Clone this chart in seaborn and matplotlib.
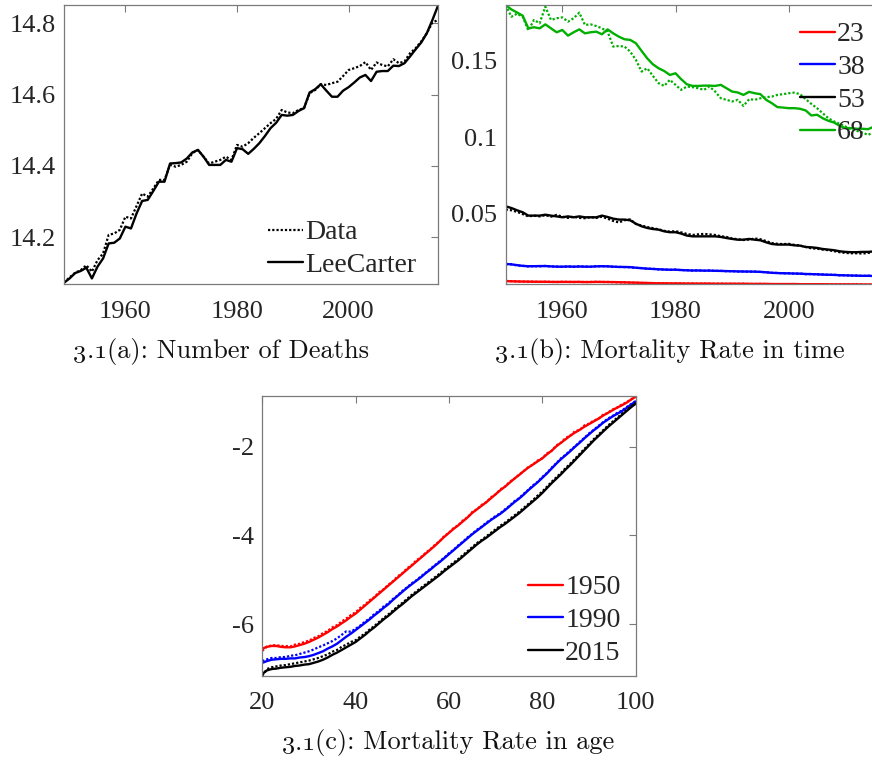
import numpy as np
import pandas as pd
import matplotlib
matplotlib.use("Agg")
import matplotlib.pyplot as plt
from matplotlib.offsetbox import TextArea, HPacker, AnnotationBbox
import seaborn as sns

# ---------------- (a) log number of deaths, 1949-2016 ----------------
years_a = list(range(1949, 2017))
deaths_leecarter = [
    14.073, 14.085, 14.100, 14.106, 14.115, 14.085, 14.118, 14.141, 14.183, 14.185,
    14.197, 14.230, 14.225, 14.267, 14.302, 14.305, 14.330, 14.356, 14.356, 14.407,
    14.408, 14.410, 14.421, 14.438, 14.445, 14.426, 14.403, 14.403, 14.403, 14.417,
    14.412, 14.450, 14.447, 14.434, 14.448, 14.464, 14.484, 14.506, 14.521, 14.543,
    14.541, 14.543, 14.554, 14.562, 14.606, 14.615, 14.629, 14.611, 14.594, 14.594,
    14.611, 14.621, 14.634, 14.648, 14.655, 14.638, 14.664, 14.666, 14.666, 14.681,
    14.680, 14.688, 14.707, 14.727, 14.746, 14.772, 14.809, 14.849,
]
deaths_data = [
    14.073, 14.088, 14.101, 14.108, 14.122, 14.104, 14.136, 14.155, 14.207, 14.211,
    14.221, 14.258, 14.253, 14.288, 14.323, 14.314, 14.337, 14.361, 14.361, 14.403,
    14.398, 14.403, 14.412, 14.436, 14.445, 14.426, 14.407, 14.412, 14.417, 14.426,
    14.417, 14.459, 14.454, 14.464, 14.479, 14.492, 14.506, 14.520, 14.532, 14.557,
    14.550, 14.548, 14.557, 14.562, 14.604, 14.613, 14.629, 14.627, 14.632, 14.636,
    14.652, 14.669, 14.674, 14.680, 14.691, 14.669, 14.690, 14.683, 14.679, 14.699,
    14.688, 14.693, 14.716, 14.730, 14.749, 14.772, 14.802, 14.809,
]

# ---------------- (b) mortality rate in time, 1950-2016 ----------------
years_b = list(range(1950, 2017))
ages_b = ["23", "38", "53", "68"]
rate23_fit = [
    0.0055, 0.0054, 0.0053, 0.0052, 0.0052, 0.0051, 0.0051, 0.0051, 0.0050, 0.0050,
    0.0050, 0.0050, 0.0050, 0.0050, 0.0049, 0.0049, 0.0050, 0.0050, 0.0049, 0.0049,
    0.0048, 0.0047, 0.0046, 0.0045, 0.0044, 0.0043, 0.0042, 0.0041, 0.0041, 0.0040,
    0.0040, 0.0040, 0.0039, 0.0039, 0.0039, 0.0039, 0.0039, 0.0038, 0.0038, 0.0038,
    0.0038, 0.0038, 0.0038, 0.0037, 0.0037, 0.0037, 0.0037, 0.0036, 0.0036, 0.0036,
    0.0036, 0.0036, 0.0035, 0.0035, 0.0035, 0.0035, 0.0035, 0.0034, 0.0034, 0.0034,
    0.0034, 0.0034, 0.0034, 0.0033, 0.0033, 0.0033, 0.0034,
]
rate23_data = [
    0.0057, 0.0055, 0.0053, 0.0053, 0.0051, 0.0052, 0.0050, 0.0051, 0.0050, 0.0049,
    0.0051, 0.0050, 0.0049, 0.0050, 0.0049, 0.0050, 0.0051, 0.0049, 0.0050, 0.0048,
    0.0047, 0.0047, 0.0045, 0.0045, 0.0043, 0.0043, 0.0041, 0.0041, 0.0040, 0.0040,
    0.0041, 0.0039, 0.0039, 0.0040, 0.0038, 0.0039, 0.0038, 0.0038, 0.0039, 0.0037,
    0.0038, 0.0037, 0.0038, 0.0037, 0.0036, 0.0037, 0.0036, 0.0036, 0.0035, 0.0036,
    0.0035, 0.0036, 0.0035, 0.0034, 0.0035, 0.0034, 0.0035, 0.0034, 0.0033, 0.0034,
    0.0034, 0.0033, 0.0034, 0.0033, 0.0032, 0.0033, 0.0034,
]
rate38_fit = [
    0.0168, 0.0165, 0.0160, 0.0155, 0.0153, 0.0153, 0.0154, 0.0154, 0.0152, 0.0150,
    0.0150, 0.0151, 0.0150, 0.0151, 0.0150, 0.0150, 0.0152, 0.0153, 0.0152, 0.0150,
    0.0148, 0.0148, 0.0147, 0.0143, 0.0140, 0.0137, 0.0135, 0.0133, 0.0131, 0.0130,
    0.0130, 0.0128, 0.0126, 0.0125, 0.0125, 0.0124, 0.0124, 0.0123, 0.0122, 0.0121,
    0.0120, 0.0119, 0.0118, 0.0118, 0.0117, 0.0116, 0.0113, 0.0110, 0.0108, 0.0107,
    0.0106, 0.0105, 0.0104, 0.0102, 0.0101, 0.0100, 0.0098, 0.0097, 0.0096, 0.0094,
    0.0093, 0.0092, 0.0091, 0.0090, 0.0090, 0.0089, 0.0089,
]
rate38_data = [
    0.0166, 0.0166, 0.0158, 0.0156, 0.0151, 0.0154, 0.0152, 0.0155, 0.0151, 0.0151,
    0.0149, 0.0152, 0.0149, 0.0152, 0.0151, 0.0149, 0.0153, 0.0152, 0.0153, 0.0149,
    0.0149, 0.0147, 0.0146, 0.0142, 0.0141, 0.0136, 0.0136, 0.0132, 0.0132, 0.0129,
    0.0131, 0.0127, 0.0127, 0.0124, 0.0126, 0.0123, 0.0125, 0.0122, 0.0123, 0.0120,
    0.0121, 0.0118, 0.0119, 0.0117, 0.0118, 0.0115, 0.0114, 0.0109, 0.0109, 0.0106,
    0.0107, 0.0104, 0.0105, 0.0101, 0.0102, 0.0099, 0.0099, 0.0096, 0.0097, 0.0093,
    0.0094, 0.0091, 0.0092, 0.0089, 0.0091, 0.0088, 0.0090,
]
rate53_fit = [
    0.0546, 0.0535, 0.0520, 0.0507, 0.0485, 0.0485, 0.0485, 0.0491, 0.0485, 0.0480,
    0.0474, 0.0480, 0.0474, 0.0480, 0.0474, 0.0474, 0.0474, 0.0485, 0.0476, 0.0465,
    0.0459, 0.0459, 0.0454, 0.0432, 0.0415, 0.0404, 0.0397, 0.0393, 0.0382, 0.0376,
    0.0376, 0.0367, 0.0354, 0.0349, 0.0349, 0.0349, 0.0349, 0.0349, 0.0345, 0.0338,
    0.0332, 0.0327, 0.0327, 0.0332, 0.0327, 0.0323, 0.0310, 0.0299, 0.0295, 0.0295,
    0.0295, 0.0290, 0.0288, 0.0279, 0.0277, 0.0273, 0.0266, 0.0262, 0.0258, 0.0251,
    0.0247, 0.0245, 0.0245, 0.0247, 0.0247, 0.0250, 0.0250,
]
rate53_data = [
    0.0525, 0.0520, 0.0510, 0.0495, 0.0480, 0.0485, 0.0480, 0.0488, 0.0478, 0.0490,
    0.0478, 0.0470, 0.0478, 0.0470, 0.0468, 0.0475, 0.0470, 0.0478, 0.0465, 0.0450,
    0.0440, 0.0455, 0.0460, 0.0430, 0.0420, 0.0410, 0.0403, 0.0395, 0.0385, 0.0380,
    0.0383, 0.0375, 0.0365, 0.0358, 0.0362, 0.0365, 0.0362, 0.0358, 0.0350, 0.0345,
    0.0335, 0.0330, 0.0325, 0.0328, 0.0335, 0.0330, 0.0318, 0.0305, 0.0300, 0.0298,
    0.0300, 0.0293, 0.0288, 0.0280, 0.0270, 0.0268, 0.0262, 0.0258, 0.0252, 0.0245,
    0.0240, 0.0238, 0.0238, 0.0236, 0.0240, 0.0245, 0.0248,
]
rate68_fit = [
    0.1867, 0.1838, 0.1818, 0.1797, 0.1714, 0.1721, 0.1714, 0.1740, 0.1714, 0.1688,
    0.1703, 0.1666, 0.1688, 0.1707, 0.1681, 0.1688, 0.1692, 0.1675, 0.1707, 0.1681,
    0.1659, 0.1642, 0.1638, 0.1616, 0.1566, 0.1517, 0.1478, 0.1452, 0.1434, 0.1408,
    0.1419, 0.1380, 0.1347, 0.1336, 0.1336, 0.1338, 0.1338, 0.1336, 0.1343, 0.1321,
    0.1299, 0.1293, 0.1277, 0.1297, 0.1288, 0.1282, 0.1245, 0.1223, 0.1197, 0.1194,
    0.1190, 0.1190, 0.1186, 0.1175, 0.1142, 0.1147, 0.1124, 0.1107, 0.1096, 0.1074,
    0.1059, 0.1059, 0.1055, 0.1055, 0.1052, 0.1068, 0.1075,
]
rate68_data = [
    0.1867, 0.1790, 0.1810, 0.1790, 0.1700, 0.1769, 0.1747, 0.1856, 0.1769, 0.1780,
    0.1786, 0.1758, 0.1780, 0.1817, 0.1736, 0.1740, 0.1729, 0.1714, 0.1692, 0.1594,
    0.1598, 0.1594, 0.1561, 0.1507, 0.1430, 0.1452, 0.1402, 0.1354, 0.1336, 0.1376,
    0.1343, 0.1310, 0.1332, 0.1328, 0.1321, 0.1310, 0.1332, 0.1299, 0.1255, 0.1245,
    0.1234, 0.1245, 0.1205, 0.1249, 0.1245, 0.1255, 0.1262, 0.1266, 0.1277, 0.1282,
    0.1288, 0.1292, 0.1282, 0.1249, 0.1218, 0.1190, 0.1157, 0.1124, 0.1103, 0.1087,
    0.1070, 0.1052, 0.1041, 0.1030, 0.1015, 0.1030, 0.1045,
]

# ---------------- (c) log mortality rate by age, 20-100 ----------------
ages_c = list(range(20, 101))
years_c = ["1950", "1990", "2015"]
logm1950_fit = [
    -6.55, -6.51, -6.49, -6.49, -6.51, -6.52, -6.52, -6.50, -6.47, -6.44,
    -6.40, -6.35, -6.30, -6.24, -6.18, -6.11, -6.05, -5.98, -5.91, -5.83,
    -5.76, -5.67, -5.58, -5.49, -5.40, -5.31, -5.22, -5.13, -5.04, -4.95,
    -4.86, -4.77, -4.68, -4.59, -4.50, -4.41, -4.32, -4.23, -4.13, -4.03,
    -3.94, -3.85, -3.77, -3.68, -3.59, -3.49, -3.41, -3.33, -3.25, -3.16,
    -3.07, -2.98, -2.90, -2.81, -2.72, -2.64, -2.55, -2.47, -2.40, -2.33,
    -2.26, -2.17, -2.09, -1.99, -1.91, -1.83, -1.75, -1.68, -1.62, -1.55,
    -1.49, -1.43, -1.37, -1.30, -1.24, -1.18, -1.12, -1.07, -1.01, -0.94,
    -0.87,
]
logm1950_data = [
    -6.60, -6.50, -6.48, -6.47, -6.49, -6.49, -6.50, -6.46, -6.44, -6.40,
    -6.37, -6.31, -6.27, -6.20, -6.15, -6.07, -6.02, -5.94, -5.87, -5.79,
    -5.73, -5.63, -5.56, -5.46, -5.39, -5.28, -5.21, -5.11, -5.03, -4.92,
    -4.85, -4.74, -4.67, -4.56, -4.49, -4.39, -4.31, -4.21, -4.13, -4.01,
    -3.94, -3.83, -3.77, -3.66, -3.59, -3.47, -3.41, -3.31, -3.25, -3.14,
    -3.07, -2.96, -2.90, -2.79, -2.72, -2.63, -2.55, -2.46, -2.40, -2.31,
    -2.26, -2.15, -2.09, -1.97, -1.91, -1.80, -1.75, -1.65, -1.62, -1.52,
    -1.48, -1.41, -1.37, -1.28, -1.24, -1.16, -1.12, -1.05, -1.00, -0.93,
    -0.87,
]
logm1990_fit = [
    -6.87, -6.83, -6.80, -6.79, -6.78, -6.78, -6.77, -6.77, -6.75, -6.74,
    -6.72, -6.69, -6.65, -6.61, -6.55, -6.50, -6.44, -6.36, -6.28, -6.21,
    -6.13, -6.05, -5.97, -5.89, -5.80, -5.72, -5.63, -5.55, -5.45, -5.36,
    -5.27, -5.18, -5.10, -5.02, -4.94, -4.85, -4.77, -4.68, -4.60, -4.51,
    -4.42, -4.33, -4.24, -4.15, -4.06, -3.97, -3.89, -3.81, -3.73, -3.65,
    -3.58, -3.51, -3.43, -3.34, -3.25, -3.17, -3.08, -2.98, -2.89, -2.80,
    -2.70, -2.60, -2.49, -2.38, -2.28, -2.19, -2.10, -2.00, -1.91, -1.81,
    -1.72, -1.63, -1.55, -1.46, -1.39, -1.32, -1.26, -1.20, -1.13, -1.05,
    -0.98,
]
logm1990_data = [
    -6.83, -6.79, -6.76, -6.76, -6.74, -6.74, -6.71, -6.70, -6.67, -6.64,
    -6.61, -6.57, -6.52, -6.48, -6.43, -6.38, -6.32, -6.24, -6.16, -6.17,
    -6.10, -6.03, -5.94, -5.87, -5.77, -5.70, -5.60, -5.53, -5.43, -5.35,
    -5.25, -5.17, -5.08, -5.01, -4.92, -4.84, -4.75, -4.67, -4.58, -4.50,
    -4.40, -4.32, -4.22, -4.14, -4.04, -3.96, -3.87, -3.80, -3.71, -3.64,
    -3.56, -3.50, -3.41, -3.33, -3.23, -3.16, -3.06, -2.97, -2.87, -2.79,
    -2.68, -2.59, -2.47, -2.37, -2.26, -2.18, -2.08, -1.99, -1.89, -1.80,
    -1.70, -1.62, -1.53, -1.45, -1.37, -1.31, -1.24, -1.19, -1.11, -1.04,
    -0.97,
]
logm2015_fit = [
    -7.12, -7.04, -7.01, -7.00, -6.98, -6.97, -6.96, -6.94, -6.93, -6.91,
    -6.90, -6.87, -6.84, -6.80, -6.75, -6.69, -6.64, -6.58, -6.52, -6.46,
    -6.40, -6.32, -6.24, -6.15, -6.07, -5.98, -5.89, -5.81, -5.72, -5.63,
    -5.55, -5.46, -5.37, -5.29, -5.21, -5.13, -5.05, -4.97, -4.89, -4.80,
    -4.72, -4.64, -4.56, -4.47, -4.38, -4.29, -4.20, -4.12, -4.05, -3.97,
    -3.89, -3.81, -3.74, -3.66, -3.58, -3.50, -3.41, -3.32, -3.23, -3.14,
    -3.04, -2.93, -2.82, -2.72, -2.62, -2.51, -2.41, -2.30, -2.19, -2.08,
    -1.97, -1.86, -1.76, -1.66, -1.56, -1.47, -1.38, -1.29, -1.20, -1.11,
    -1.03,
]
logm2015_data = [
    -7.16, -7.01, -6.97, -6.95, -6.93, -6.92, -6.90, -6.88, -6.86, -6.84,
    -6.82, -6.79, -6.76, -6.72, -6.68, -6.62, -6.58, -6.51, -6.46, -6.40,
    -6.36, -6.28, -6.21, -6.12, -6.04, -5.95, -5.86, -5.78, -5.69, -5.60,
    -5.52, -5.43, -5.34, -5.26, -5.18, -5.10, -5.02, -4.94, -4.86, -4.77,
    -4.69, -4.61, -4.53, -4.44, -4.35, -4.26, -4.17, -4.10, -4.02, -3.94,
    -3.86, -3.78, -3.71, -3.63, -3.55, -3.47, -3.38, -3.29, -3.20, -3.10,
    -3.01, -2.90, -2.79, -2.69, -2.59, -2.48, -2.38, -2.27, -2.16, -2.05,
    -1.94, -1.83, -1.73, -1.63, -1.53, -1.44, -1.35, -1.26, -1.18, -1.09,
    -1.01,
]

# caption = (number, sub-label + title)
captions = [
    ("3.1", "(a): Number of Deaths"),
    ("3.1", "(b): Mortality Rate in time"),
    ("3.1", "(c): Mortality Rate in age"),
]

# ---------------- styling ----------------
sns.set_theme(style="white")
SERIF = ["Liberation Serif", "DejaVu Serif"]
plt.rcParams["font.family"] = SERIF
plt.rcParams["axes.unicode_minus"] = False

TXT = "#262626"
SPINE = "#7a7a7a"
RED, BLUE, BLACK, GREEN = "#ff0000", "#0000ff", "#000000", "#00b000"
LW_FIT, LW_DATA = 1.7, 1.6
TICK_FS = 19
LEG_FS = 20
CAP_FS = 19

fig = plt.figure(figsize=(8.72, 7.62), dpi=100)
W, H = 872.0, 762.0


def add_axes_px(left, top, width, height):
    return fig.add_axes([left / W, 1 - (top + height) / H, width / W, height / H])


def style_axes(ax):
    for s in ax.spines.values():
        s.set_color(SPINE)
        s.set_linewidth(0.9)
    ax.tick_params(direction="in", length=5, width=0.8, color=SPINE,
                   top=True, right=True, labelsize=TICK_FS, labelcolor=TXT)
    ax.tick_params(axis="x", pad=12)
    ax.tick_params(axis="y", pad=6)
    ax.set_xlabel("")
    ax.set_ylabel("")


def draw(ax, x, y, color, dotted, label=None):
    sns.lineplot(x=x, y=y, ax=ax, color=color, estimator=None, sort=False,
                 linewidth=LW_DATA if dotted else LW_FIT,
                 linestyle=(0, (1, 0.9)) if dotted else "-",
                 label=label, legend=False)


def legend_at(ax, handles, labels, left_px, top_px):
    ax.legend(handles, labels, loc="upper left",
              bbox_to_anchor=(left_px / W, 1 - top_px / H),
              bbox_transform=fig.transFigure, frameon=False, fontsize=LEG_FS,
              handlelength=1.26, handletextpad=0.08, labelspacing=0.26,
              borderpad=0.0, borderaxespad=0.0)


# (a)
ax_a = add_axes_px(64, 5, 374, 279.5)
draw(ax_a, years_a, deaths_data, BLACK, True, "Data")
draw(ax_a, years_a, deaths_leecarter, BLACK, False, "LeeCarter")
ax_a.set_xlim(years_a[0], years_a[-1])
ax_a.set_ylim(14.068, 14.851)
ax_a.set_xticks([1960, 1980, 2000])
ax_a.set_yticks([14.2, 14.4, 14.6, 14.8])
ax_a.set_yticklabels(["14.2", "14.4", "14.6", "14.8"])
style_axes(ax_a)
ha, la = ax_a.get_legend_handles_labels()
legend_at(ax_a, ha, la, 268, 220)

# (b)
ax_b = add_axes_px(505.7, 5, 373.6, 279.5)
b_fit = [rate23_fit, rate38_fit, rate53_fit, rate68_fit]
b_data = [rate23_data, rate38_data, rate53_data, rate68_data]
b_cols = [RED, BLUE, BLACK, GREEN]
for lab, yf, yd, c in zip(ages_b, b_fit, b_data, b_cols):
    draw(ax_b, years_b, yd, c, True)
    draw(ax_b, years_b, yf, c, False, lab)
ax_b.set_xlim(years_b[0], years_b[-1])
ax_b.set_ylim(0.0033, 0.1867)
ax_b.set_xticks([1960, 1980, 2000])
ax_b.set_yticks([0.05, 0.1, 0.15])
ax_b.set_yticklabels(["0.05", "0.1", "0.15"])
style_axes(ax_b)
hb, lb = ax_b.get_legend_handles_labels()
legend_at(ax_b, hb, lb, 800, 22)

# (c)
ax_c = add_axes_px(262.3, 395.7, 373.4, 280)
c_fit = [logm1950_fit, logm1990_fit, logm2015_fit]
c_data = [logm1950_data, logm1990_data, logm2015_data]
c_cols = [RED, BLUE, BLACK]
for lab, yf, yd, c in zip(years_c, c_fit, c_data, c_cols):
    draw(ax_c, ages_c, yd, c, True)
    draw(ax_c, ages_c, yf, c, False, lab)
ax_c.set_xlim(20, 100)
ax_c.set_ylim(-7.16, -0.85)
ax_c.set_xticks([20, 40, 60, 80, 100])
ax_c.set_yticks([-6, -4, -2])
ax_c.set_yticklabels(["-6", "-4", "-2"])
style_axes(ax_c)
hc, lc = ax_c.get_legend_handles_labels()
legend_at(ax_c, hc, lc, 528, 575)


# captions: old-style figure number followed by the roman title
def caption(num, rest, cx, cy):
    roman = dict(fontfamily="cmr10", fontsize=CAP_FS, color="#111111")
    oldstyle = dict(fontfamily="cmmi10", fontsize=CAP_FS, color="#111111")
    parts = [TextArea(num[0], textprops=oldstyle),
             TextArea(".", textprops=roman),
             TextArea(num[2], textprops=oldstyle),
             TextArea(rest, textprops=roman)]
    box = HPacker(children=parts, align="baseline", pad=0, sep=0)
    ab = AnnotationBbox(box, (cx / W, 1 - cy / H), xycoords="figure fraction",
                        frameon=False, box_alignment=(0.5, 0.5), pad=0)
    fig.add_artist(ab)


caption(*captions[0], 221, 351)
caption(*captions[1], 670, 351)
caption(*captions[2], 448, 743)

fig.savefig("out.png", dpi=100)
